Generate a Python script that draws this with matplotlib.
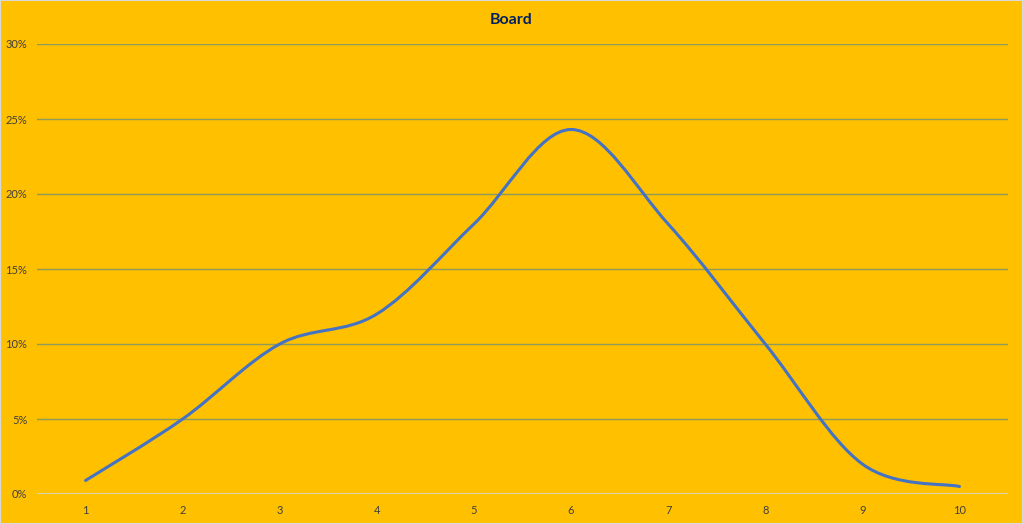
import numpy as np
import matplotlib.pyplot as plt
from matplotlib.path import Path
from matplotlib.patches import PathPatch, Rectangle
from matplotlib.ticker import PercentFormatter

plt.rcParams["font.family"] = ["Lato", "DejaVu Sans"]

categories = [1, 2, 3, 4, 5, 6, 7, 8, 9, 10]
values = [0.009, 0.05, 0.10, 0.12, 0.18, 0.243, 0.18, 0.10, 0.02, 0.005]

bg = "#FFC000"
line_color = "#4472C4"
grid_color = "#8E9A5C"


def smooth_path(xs, ys):
    # Excel-like smoothed line: cubic bezier segments with catmull-rom tangents
    pts = np.column_stack([xs, ys]).astype(float)
    n = len(pts)
    verts = [pts[0]]
    codes = [Path.MOVETO]
    for i in range(n - 1):
        p0 = pts[i - 1] if i > 0 else pts[i]
        p1 = pts[i]
        p2 = pts[i + 1]
        p3 = pts[i + 2] if i + 2 < n else pts[i + 1]
        c1 = p1 + (p2 - p0) / 6
        c2 = p2 - (p3 - p1) / 6
        verts += [c1, c2, p2]
        codes += [Path.CURVE4] * 3
    return Path(verts, codes)


fig = plt.figure(figsize=(10.23, 5.24), dpi=100, facecolor=bg)
ax = fig.add_axes([37 / 1023, 30 / 524, 971 / 1023, 450 / 524])
ax.set_facecolor(bg)

ax.add_patch(PathPatch(smooth_path(categories, values), fill=False,
                       edgecolor=line_color, lw=2.2, capstyle="round", zorder=3))

ax.set_xlim(0.5, 10.5)
ax.set_ylim(0, 0.30)
ax.set_xticks(categories)
ax.set_xticklabels([str(c) for c in categories])
ax.set_yticks(np.arange(0, 0.31, 0.05))
ax.yaxis.set_major_formatter(PercentFormatter(1.0, decimals=0))
ax.grid(axis="y", color=grid_color, lw=1.0)
ax.axhline(0, color="#D9D9D9", lw=1.2, zorder=2)
for s in ax.spines.values():
    s.set_visible(False)
ax.tick_params(length=0, labelsize=8, labelcolor="#404040")
ax.tick_params(axis="x", pad=8)
ax.tick_params(axis="y", pad=7)

fig.suptitle("Board", x=0.5, y=0.975, fontsize=11.5, fontweight="bold",
             color="#002060")
fig.patches.append(Rectangle((0, 0), 1, 1, transform=fig.transFigure,
                             fill=False, edgecolor="#D9D9D9", lw=1.5))

fig.savefig("out.png", dpi=100, facecolor=bg)
